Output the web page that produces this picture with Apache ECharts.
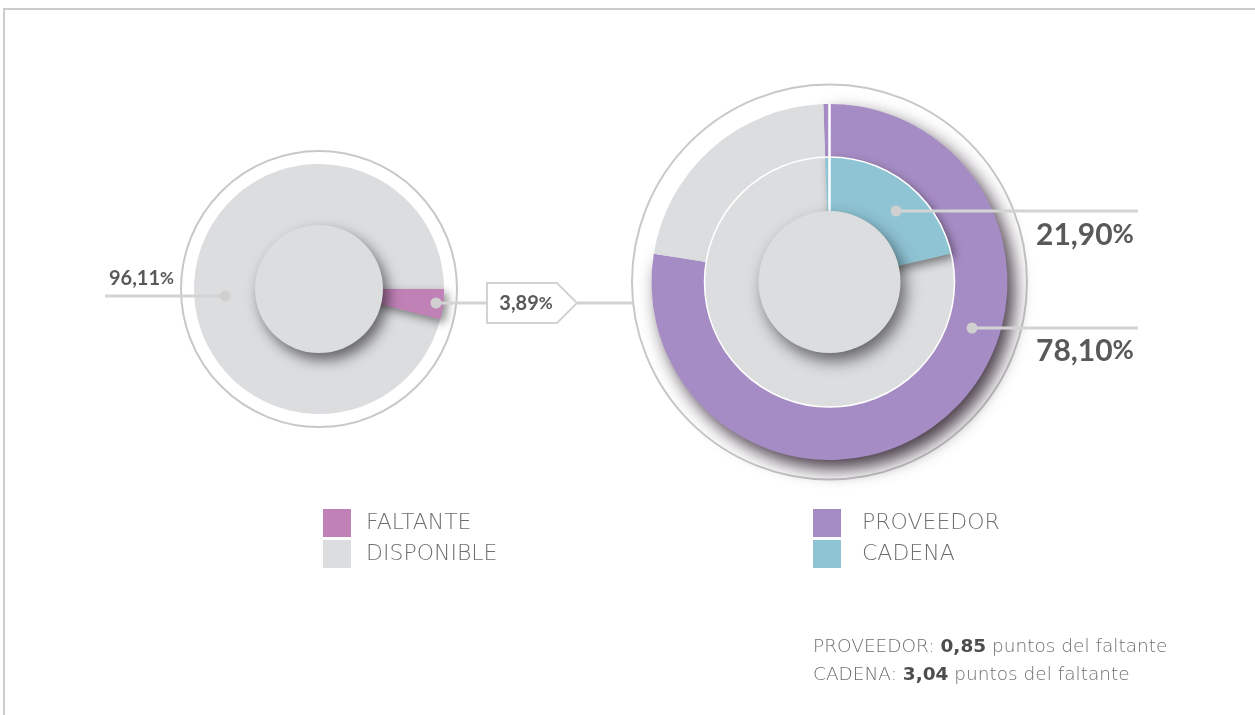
<!DOCTYPE html>
<html>
<head>
<meta charset="utf-8">
<script src="https://cdn.jsdelivr.net/npm/echarts@6/dist/echarts.min.js"></script>
<style>
  html, body { margin: 0; padding: 0; background: #fff; }
  #chart { width: 1255px; height: 715px; }
</style>
</head>
<body>
<div id="chart"></div>
<script>
// datos
var leftNames = ['FALTANTE', 'DISPONIBLE'];
var leftValues = [3.89, 96.11];
var rightNames = ['PROVEEDOR', 'CADENA'];
var rightValues = [78.10, 21.90];
var puntos = [0.85, 3.04];

// colores
var GRIS = '#dcdddf', ROSA = '#c081b7', LILA = '#a68cc4', CELESTE = '#8fc4d5';
var LINEA = '#d3d3d3', TEXTO = '#58595b';

var fmt = function (v) { return v.toFixed(2).replace('.', ','); };

var cL = [319, 289], cR = [829.5, 282];

var myChart = echarts.init(document.getElementById('chart'));

var labelBase = {
    show: true,
    position: 'outside',
    formatter: function (p) { return '{n|' + fmt(p.value) + '}{p|%}'; },
    rich: {
        n: { fontFamily: 'Lato', fontWeight: 'bold', fontSize: 20, color: TEXTO },
        p: { fontFamily: 'Lato', fontWeight: 'bold', fontSize: 17, color: TEXTO }
    }
};
var labelBig = {
    show: true,
    position: 'outside',
    formatter: function (p) { return '{n|' + fmt(p.value) + '}{p|%}'; },
    rich: {
        n: { fontFamily: 'Lato', fontWeight: 'bold', fontSize: 30, color: TEXTO },
        p: { fontFamily: 'Lato', fontWeight: 'bold', fontSize: 26, color: TEXTO }
    }
};
var noLabel = { show: false };
var sombra = { shadowBlur: 10, shadowOffsetX: 4, shadowOffsetY: 4, shadowColor: 'rgba(0,0,0,0.45)' };
var textoLeyenda = { fontFamily: 'DejaVu Sans', fontWeight: 200, fontSize: 22, color: '#6d6e70' };

var option = {
    animation: false,
    title: {
        left: 813,
        top: 633,
        padding: 0,
        text: '{a|' + rightNames[0] + ': }{b|' + fmt(puntos[0]) + '}{a| puntos del faltante}\n' +
              '{a|' + rightNames[1] + ': }{b|' + fmt(puntos[1]) + '}{a| puntos del faltante}',
        textStyle: {
            rich: {
                a: { fontFamily: 'DejaVu Sans', fontWeight: 200, fontSize: 18.5, color: '#6d6e70', lineHeight: 28 },
                b: { fontFamily: 'DejaVu Sans', fontWeight: 'bold', fontSize: 18.5, color: '#4d4d4f', lineHeight: 28 }
            }
        }
    },
    legend: [{
        data: leftNames,
        left: 323, top: 509, padding: 0,
        orient: 'vertical',
        icon: 'rect', itemWidth: 28, itemHeight: 28, itemGap: 3,
        selectedMode: false,
        textStyle: Object.assign({ padding: [0, 0, 0, 10] }, textoLeyenda)
    }, {
        data: rightNames,
        left: 813, top: 509, padding: 0,
        orient: 'vertical',
        icon: 'rect', itemWidth: 28, itemHeight: 28, itemGap: 3,
        selectedMode: false,
        textStyle: Object.assign({ padding: [0, 0, 0, 16] }, textoLeyenda)
    }],
    series: [
        // izquierda
        {
            type: 'pie',
            center: cL,
            radius: [0, 125],
            startAngle: 3.6 * leftValues[1],
            clockwise: true,
            silent: true,
            labelLine: { show: false },
            labelLayout: function (p) {
                if (p.dataIndex === 0) return { x: 174, y: 279, align: 'right', verticalAlign: 'middle' };
                return { x: 526, y: 304, align: 'center', verticalAlign: 'middle' };
            },
            data: [
                { name: leftNames[1], value: leftValues[1], itemStyle: { color: GRIS }, label: labelBase },
                { name: leftNames[0], value: leftValues[0], itemStyle: Object.assign({ color: ROSA }, sombra), label: labelBase }
            ]
        },
        // derecha, anillo exterior
        {
            type: 'pie',
            center: cR,
            radius: [125, 178],
            startAngle: 92,
            silent: true,
            labelLine: { show: false },
            labelLayout: function () {
                return { x: 1036, y: 351, align: 'left', verticalAlign: 'middle' };
            },
            data: [
                { name: rightNames[0], value: rightValues[0], label: labelBig,
                  itemStyle: { color: LILA, shadowBlur: 18, shadowOffsetX: 7, shadowOffsetY: 9, shadowColor: 'rgba(25,10,25,0.8)' } },
                { name: 'resto', value: rightValues[1], label: noLabel, itemStyle: { color: GRIS } }
            ]
        },
        // derecha, interior
        {
            type: 'pie',
            center: cR,
            radius: [0, 125],
            startAngle: 92 - 3.6 * rightValues[1],
            silent: true,
            labelLine: { show: false },
            labelLayout: function () {
                return { x: 1036, y: 235, align: 'left', verticalAlign: 'middle' };
            },
            data: [
                { name: 'resto', value: rightValues[0], label: noLabel, itemStyle: { color: GRIS } },
                { name: rightNames[1], value: rightValues[1], label: labelBig,
                  itemStyle: Object.assign({ color: CELESTE }, sombra) }
            ]
        }
    ],
    graphic: [
        // marco
        { type: 'polyline', z: 1, shape: { points: [[4, 720], [4, 9], [1260, 9]] }, style: { fill: null, stroke: '#cccccc', lineWidth: 2 } },
        // aros finos
        { type: 'circle', z: 1, shape: { cx: cL[0], cy: cL[1], r: 138 }, style: { fill: null, stroke: '#c8c8c8', lineWidth: 2 } },
        { type: 'circle', z: 1, shape: { cx: cR[0], cy: cR[1], r: 197.5 }, style: { fill: null, stroke: '#c8c8c8', lineWidth: 2 } },
        // borde blanco disco interior
        { type: 'circle', z: 5, shape: { cx: cR[0], cy: cR[1], r: 125 }, style: { fill: null, stroke: '#ffffff', lineWidth: 1.5 } },
        // separador vertical
        { type: 'line', z: 5, shape: { x1: cR[0], y1: cR[1] - 178, x2: cR[0], y2: cR[1] - 70 }, style: { stroke: '#ffffff', lineWidth: 2.5 } },
        // agujeros
        { type: 'circle', z: 10, shape: { cx: cL[0], cy: cL[1], r: 64 },
          style: { fill: GRIS, shadowBlur: 14, shadowOffsetX: 5, shadowOffsetY: 7, shadowColor: 'rgba(0,0,0,0.55)' } },
        { type: 'circle', z: 10, shape: { cx: cR[0], cy: cR[1], r: 71 },
          style: { fill: GRIS, shadowBlur: 16, shadowOffsetX: 5, shadowOffsetY: 8, shadowColor: 'rgba(0,0,0,0.55)' } },
        // líneas de etiquetas
        { type: 'line', z: 11, shape: { x1: 105, y1: 296, x2: 225, y2: 296 }, style: { stroke: LINEA, lineWidth: 3 } },
        { type: 'circle', z: 11, shape: { cx: 225, cy: 296, r: 5.5 }, style: { fill: '#d0d0d0' } },
        { type: 'line', z: 11, shape: { x1: 436, y1: 303, x2: 487, y2: 303 }, style: { stroke: LINEA, lineWidth: 3 } },
        { type: 'circle', z: 11, shape: { cx: 436, cy: 303, r: 5.5 }, style: { fill: '#d0d0d0' } },
        { type: 'polygon', z: 1, shape: { points: [[487, 283], [557, 283], [577, 303], [557, 323], [487, 323]] },
          style: { fill: '#ffffff', stroke: LINEA, lineWidth: 2 } },
        { type: 'line', z: 1, shape: { x1: 577, y1: 303, x2: 633, y2: 303 }, style: { stroke: LINEA, lineWidth: 3 } },
        { type: 'line', z: 11, shape: { x1: 896, y1: 211, x2: 1138, y2: 211 }, style: { stroke: LINEA, lineWidth: 3 } },
        { type: 'circle', z: 11, shape: { cx: 896, cy: 211, r: 5.5 }, style: { fill: '#d0d0d0' } },
        { type: 'line', z: 11, shape: { x1: 972, y1: 328, x2: 1138, y2: 328 }, style: { stroke: LINEA, lineWidth: 3 } },
        { type: 'circle', z: 11, shape: { cx: 972, cy: 328, r: 5.5 }, style: { fill: '#d0d0d0' } }
    ]
};

myChart.setOption(option);
</script>
</body>
</html>
